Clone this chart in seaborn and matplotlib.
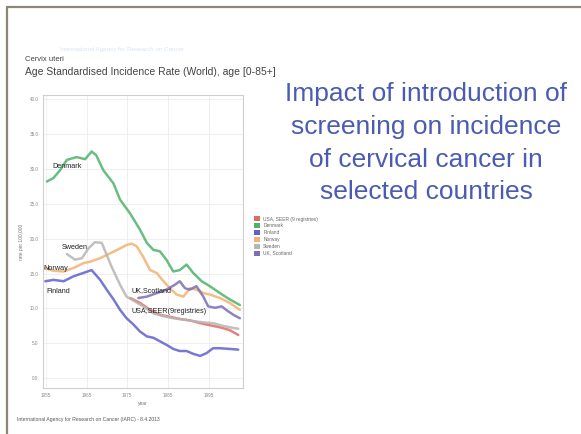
import pandas as pd
import matplotlib.pyplot as plt
import seaborn as sns
from matplotlib.lines import Line2D
from matplotlib.patches import Patch

sns.set_style("white")
plt.rcParams["font.family"] = ["Liberation Sans", "DejaVu Sans"]

# data (ASR per 100,000)
denmark_years = [1955.2, 1956.8, 1958.4, 1960.1, 1962.5, 1964.6, 1966.2, 1967.3, 1969.1, 1971.6, 1973.2,
                 1975.7, 1978.1, 1979.8, 1981.4, 1983.0, 1984.6, 1986.3, 1987.9, 1989.6, 1991.2, 1993.3,
                 1995.3, 1997.8, 2000.2, 2002.7]
denmark_rate = [28.2, 28.7, 29.8, 31.3, 31.7, 31.4, 32.5, 32.0, 29.8, 27.9, 25.6,
                23.6, 21.3, 19.4, 18.4, 18.2, 17.0, 15.3, 15.5, 16.3, 15.1, 13.9,
                13.2, 12.2, 11.3, 10.5]

norway_years = [1954.8, 1956.8, 1959.3, 1961.7, 1964.2, 1965.8, 1968.3, 1970.7, 1973.2, 1974.8, 1976.1,
                1977.3, 1978.9, 1980.6, 1982.2, 1983.9, 1985.5, 1987.1, 1988.8, 1990.4, 1992.0, 1993.7,
                1995.3, 1997.8, 2000.2, 2002.7]
norway_rate = [15.8, 15.4, 15.3, 15.8, 16.5, 16.7, 17.2, 17.9, 18.6, 19.1, 19.3,
               18.9, 17.4, 15.5, 15.1, 13.9, 12.9, 12.0, 11.7, 12.9, 12.7, 12.2,
               12.0, 11.5, 10.8, 9.8]

finland_years = [1954.8, 1956.8, 1959.3, 1961.7, 1964.2, 1966.2, 1968.3, 1969.9, 1971.6, 1973.2, 1974.8,
                 1976.5, 1978.1, 1979.8, 1981.4, 1983.0, 1984.6, 1986.3, 1987.9, 1989.6, 1991.2, 1992.9,
                 1994.5, 1996.1, 1997.8, 2000.2, 2002.3]
finland_rate = [13.9, 14.1, 13.9, 14.6, 15.1, 15.5, 14.1, 12.7, 11.3, 9.8, 8.6,
                7.7, 6.7, 6.0, 5.8, 5.3, 4.8, 4.2, 3.9, 3.9, 3.5, 3.2,
                3.6, 4.3, 4.3, 4.2, 4.1]

sweden_years = [1960.1, 1962.1, 1963.8, 1965.4, 1967.0, 1968.7, 1971.1, 1973.2, 1974.8, 1976.9, 1978.9,
                1981.4, 1983.9, 1986.3, 1988.8, 1991.2, 1993.7, 1996.1, 1998.6, 2001.1, 2002.3]
sweden_rate = [17.8, 17.0, 17.2, 18.6, 19.5, 19.4, 16.0, 13.4, 11.7, 11.0, 10.3,
               9.3, 8.9, 8.6, 8.4, 8.2, 8.0, 7.9, 7.5, 7.2, 7.1]

usa_years = [1975.7, 1978.1, 1980.6, 1983.0, 1985.5, 1987.9, 1990.4, 1992.9, 1995.3, 1997.8, 2000.2, 2002.3]
usa_rate = [11.5, 10.8, 9.8, 9.1, 8.8, 8.5, 8.3, 7.9, 7.6, 7.3, 6.9, 6.2]

scotland_years = [1977.7, 1979.8, 1982.2, 1984.6, 1986.7, 1987.9, 1989.2, 1990.4, 1992.0, 1993.7, 1994.9,
                  1996.6, 1998.2, 1999.8, 2001.1, 2002.7]
scotland_rate = [11.5, 11.7, 12.2, 12.7, 13.4, 13.9, 12.9, 12.7, 13.2, 11.7, 10.3,
                 10.1, 10.3, 9.6, 9.1, 8.6]

legend_labels = ["USA, SEER (9 registries)", "Denmark", "Finland", "Norway", "Sweden", "UK, Scotland"]
colors = ["#e26a64", "#4fb26c", "#5f62cc", "#f3b272", "#b8b4b4", "#7a70b4"]

series = [
    (usa_years, usa_rate, legend_labels[0]),
    (denmark_years, denmark_rate, legend_labels[1]),
    (finland_years, finland_rate, legend_labels[2]),
    (norway_years, norway_rate, legend_labels[3]),
    (sweden_years, sweden_rate, legend_labels[4]),
    (scotland_years, scotland_rate, legend_labels[5]),
]
df = pd.concat([pd.DataFrame({"year": x, "rate": y, "registry": name}) for x, y, name in series],
               ignore_index=True)

fig = plt.figure(figsize=(5.81, 4.34), dpi=100)
W, H = 581, 434

# slide frame
fig.add_artist(Line2D([7 / W, 7 / W], [0, 1 - 7 / H], color="#8c8674", lw=1.6))
fig.add_artist(Line2D([7 / W, 1], [1 - 7 / H, 1 - 7 / H], color="#8c8674", lw=1.6))

ax = fig.add_axes([43.3 / W, 1 - 388 / H, 199.4 / W, 293 / H])
sns.lineplot(data=df, x="year", y="rate", hue="registry", hue_order=legend_labels,
             palette=dict(zip(legend_labels, colors)), lw=1.8, alpha=0.85, legend=False,
             sort=True, estimator=None, ax=ax)

ax.set_xlim(1954.3, 2003.4)
ax.set_ylim(-1.4, 40.6)
ax.set_xticks([1955, 1965, 1975, 1985, 1995])
ax.set_yticks(range(0, 41, 5))
ax.set_yticklabels([f"{v:.1f}" for v in range(0, 41, 5)])
ax.tick_params(labelsize=3.3, colors="#888888", length=2, width=0.5, pad=1.5)
ax.grid(True, color="#ececec", lw=0.6)
for s in ax.spines.values():
    s.set_color("#cfcfcf")
    s.set_linewidth(0.8)
ax.set_xlabel("year", fontsize=3.5, color="#777777", labelpad=2)
ax.set_ylabel("rate per 100,000", fontsize=3.5, color="#777777", labelpad=4)

# country labels on the curves
notes = [("Denmark", 1956.6, 30.3), ("Sweden", 1958.9, 18.7), ("Norway", 1954.2, 15.7),
         ("Finland", 1955.0, 12.5), ("UK,Scotland", 1976.1, 12.6), ("USA,SEER(9registries)", 1976.1, 9.6)]
for txt, x, y in notes:
    ax.text(x, y, txt, fontsize=5.2, color="#222222", ha="left", va="center", clip_on=False)

# legend
handles = [Patch(facecolor=c, edgecolor="none") for c in colors]
fig.legend(handles, legend_labels, loc="upper left", bbox_to_anchor=(250 / W, 1 - 212 / H),
           frameon=False, fontsize=3.5, handlelength=1.2, handleheight=1.2, labelspacing=0.35,
           handletextpad=0.6, labelcolor="#666666")

# chart header
fig.text(60 / W, 1 - 49 / H, "International Agency for Research on Cancer", fontsize=4.5,
         color="#d8e4f1", va="center")
fig.text(25 / W, 1 - 59.5 / H, "Cervix uteri", fontsize=5.5, color="#444444", va="center")
fig.text(25 / W, 1 - 72 / H, "Age Standardised Incidence Rate (World), age [0-85+]", fontsize=7.5,
         color="#444444", va="center")
fig.text(17 / W, 1 - 419 / H, "International Agency for Research on Cancer (IARC) - 8.4.2013",
         fontsize=3.6, color="#555555", va="center")

# slide title
title_lines = ["Impact of introduction of", "screening on incidence",
               "of cervical cancer in", "selected countries"]
for line, base in zip(title_lines, [101, 134, 167, 199]):
    fig.text(426 / W, 1 - base / H, line, fontsize=19, color="#4a5cb2", ha="center", va="baseline")

fig.savefig("out.png", dpi=100)
